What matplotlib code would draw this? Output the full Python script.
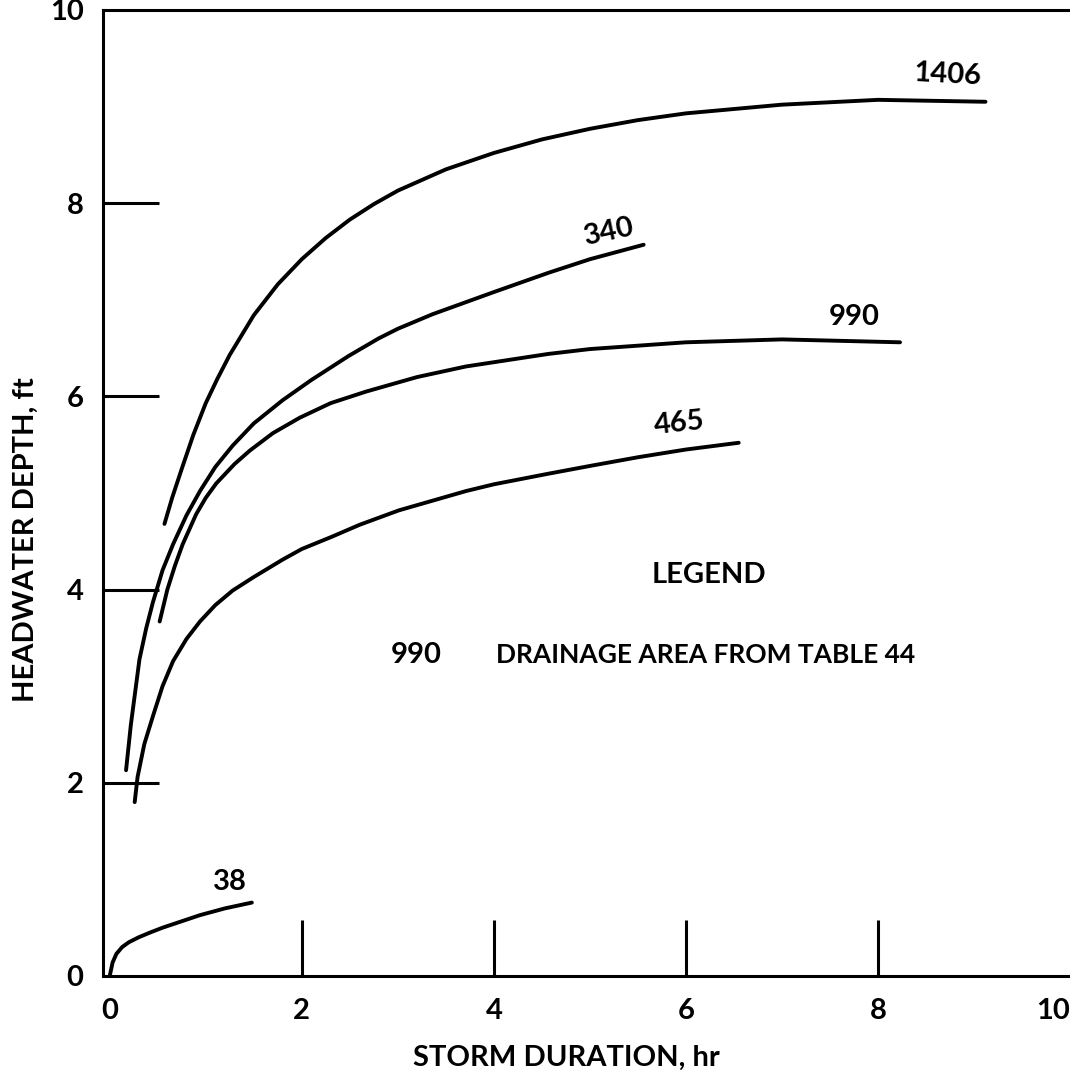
import matplotlib
matplotlib.use("Agg")
import matplotlib.pyplot as plt

# ---- data ----
x_1406 = [0.57, 0.65, 0.75, 0.87, 1.0, 1.12, 1.25, 1.5, 1.75, 2.0, 2.25, 2.5, 2.75, 3.0, 3.5, 4.0, 4.5, 5.0, 5.5, 6.0, 7.0, 8.0, 9.12]
y_1406 = [4.68, 4.95, 5.25, 5.60, 5.93, 6.18, 6.43, 6.84, 7.16, 7.42, 7.64, 7.83, 7.99, 8.13, 8.35, 8.52, 8.66, 8.77, 8.86, 8.93, 9.02, 9.07, 9.05]

x_340 = [0.17, 0.22, 0.31, 0.38, 0.45, 0.55, 0.66, 0.80, 0.94, 1.10, 1.28, 1.50, 1.80, 2.10, 2.49, 2.80, 3.00, 3.36, 4.00, 4.57, 5.00, 5.56]
y_340 = [2.13, 2.60, 3.28, 3.60, 3.87, 4.20, 4.47, 4.77, 5.02, 5.27, 5.49, 5.72, 5.96, 6.17, 6.42, 6.60, 6.70, 6.85, 7.08, 7.28, 7.42, 7.57]

x_990 = [0.52, 0.60, 0.68, 0.76, 0.90, 1.00, 1.11, 1.30, 1.46, 1.70, 1.98, 2.30, 2.67, 3.20, 3.71, 4.57, 5.00, 6.00, 7.00, 8.23]
y_990 = [3.67, 4.00, 4.25, 4.47, 4.78, 4.95, 5.10, 5.30, 5.44, 5.62, 5.78, 5.93, 6.05, 6.20, 6.31, 6.44, 6.49, 6.56, 6.59, 6.56]

x_465 = [0.26, 0.29, 0.36, 0.45, 0.55, 0.66, 0.80, 0.94, 1.10, 1.28, 1.50, 1.80, 2.00, 2.32, 2.60, 3.01, 3.71, 4.00, 4.57, 5.00, 5.50, 6.00, 6.55]
y_465 = [1.80, 2.06, 2.40, 2.69, 3.00, 3.26, 3.49, 3.67, 3.84, 3.99, 4.13, 4.31, 4.42, 4.55, 4.67, 4.82, 5.02, 5.09, 5.20, 5.28, 5.37, 5.45, 5.52]

x_38 = [0.0, 0.03, 0.07, 0.13, 0.20, 0.30, 0.42, 0.55, 0.70, 0.94, 1.20, 1.48]
y_38 = [0.0, 0.14, 0.23, 0.30, 0.35, 0.40, 0.45, 0.50, 0.55, 0.63, 0.70, 0.76]

curve_names = ["1406", "340", "990", "465", "38"]
label_x = [8.72, 5.20, 7.75, 5.93, 1.25]
label_y = [9.33, 7.70, 6.82, 5.72, 0.97]
label_rot = [-3, 12, 0, 6, 0]

x_ticks = [0, 2, 4, 6, 8, 10]
y_ticks = [0, 2, 4, 6, 8, 10]
tick_marks = [2, 4, 6, 8]

legend_title = "LEGEND"
legend_key = "990"
legend_text = "DRAINAGE AREA FROM TABLE 44"
x_label = "STORM DURATION, hr"
y_label = "HEADWATER DEPTH, ft"

plt.rcParams['font.family'] = ['Lato', 'DejaVu Sans']
FS = 21

fig = plt.figure(figsize=(10.7, 10.8), dpi=100)
ax = fig.add_axes([103/1070, (1080-976)/1080, 1 - 103/1070, (976-10)/1080])

series_x = [x_1406, x_340, x_990, x_465, x_38]
series_y = [y_1406, y_340, y_990, y_465, y_38]
for xs, ys in zip(series_x, series_y):
    ax.plot(xs, ys, color='black', lw=2.8, solid_capstyle='round', solid_joinstyle='round')

for name, lx, ly, rot in zip(curve_names, label_x, label_y, label_rot):
    ax.text(lx, ly, name, ha='center', va='center', fontsize=FS, fontweight='bold',
            rotation=rot)

ax.text(6.24, 4.15, legend_title, ha='center', va='center', fontsize=FS, fontweight='bold')
ax.text(3.19, 3.32, legend_key, ha='center', va='center', fontsize=FS, fontweight='bold')
ax.text(4.02, 3.32, legend_text, ha='left', va='center', fontsize=19, fontweight='bold')

ax.set_xlim(-0.07, 10.0)
ax.set_ylim(0, 10)

ax.xaxis.remove_overlapping_locs = False
ax.yaxis.remove_overlapping_locs = False

ax.set_xticks(x_ticks)
ax.set_xticklabels([str(t) for t in x_ticks], fontsize=FS, fontweight='bold')
ax.set_yticks(y_ticks)
ax.set_yticklabels([str(t) for t in y_ticks], fontsize=FS, fontweight='bold')
ax.tick_params(axis='both', which='major', length=0)
ax.tick_params(axis='x', which='major', pad=16)
ax.tick_params(axis='y', which='major', pad=14)
ax.get_xticklabels()[-1].set_horizontalalignment('right')

ax.set_xticks(tick_marks, minor=True)
ax.set_yticks(tick_marks, minor=True)
ax.tick_params(which='minor', direction='in', length=40, width=2.2, color='black')

for s in ['left', 'bottom', 'top']:
    ax.spines[s].set_linewidth(2.2)
ax.spines['right'].set_visible(False)

ax.set_xlabel(x_label, fontsize=FS, fontweight='bold', va='center')
ax.xaxis.set_label_coords((566 - 103) / (1070 - 103), -(1058 - 976) / 966)
ax.set_ylabel(y_label, fontsize=FS, fontweight='bold', va='center')
ax.yaxis.set_label_coords(-(103 - 26) / 967, (976 - 540) / 966)

fig.savefig("out.png", dpi=100)
